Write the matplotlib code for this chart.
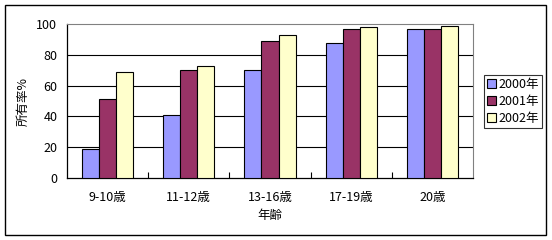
import matplotlib
matplotlib.use('Agg')
import matplotlib.pyplot as plt
from matplotlib.patches import Rectangle
import numpy as np

plt.rcParams['font.family'] = ['Noto Sans CJK JP', 'DejaVu Sans']
plt.rcParams['font.size'] = 9

categories = ['9-10歳', '11-12歳', '13-16歳', '17-19歳', '20歳']
series = ['2000年', '2001年', '2002年']
y2000 = [19, 41, 70, 87.5, 96.5]
y2001 = [51.5, 70, 89, 96.5, 96.5]
y2002 = [69, 73, 93, 98, 98.5]
colors = ['#9999FF', '#993366', '#FFFFCC']

fig = plt.figure(figsize=(5.52, 2.4), dpi=100)
ax = fig.add_axes([67 / 552, 1 - 178 / 240, 406 / 552, 154 / 240])

# outer chart border
fig.patches.append(Rectangle((5 / 552, 5 / 240), 541 / 552, 230 / 240,
                             transform=fig.transFigure, fill=False,
                             edgecolor='black', linewidth=1))

x = np.arange(len(categories))
w = 0.21
for i, (vals, c, lab) in enumerate(zip([y2000, y2001, y2002], colors, series)):
    ax.bar(x + (i - 1) * w, vals, w, color=c, edgecolor='black',
           linewidth=0.8, label=lab, zorder=3)

ax.set_xlim(-0.5, len(categories) - 0.5)
ax.set_ylim(0, 100)
ax.set_yticks(range(0, 101, 20))
for v in range(20, 100, 20):
    ax.axhline(v, color='black', linewidth=0.8, zorder=1)

ax.set_xticks(x)
ax.set_xticklabels(categories)
ax.set_xticks(np.arange(0.5, len(categories) - 0.5, 1), minor=True)
ax.tick_params(axis='x', which='major', length=0, pad=9)
ax.tick_params(axis='x', which='minor', direction='in', length=4, width=0.8)
ax.tick_params(axis='y', length=0, pad=7)

for s in ['top', 'right']:
    ax.spines[s].set_color('#808080')
ax.spines['left'].set_linewidth(0.9)
ax.spines['bottom'].set_linewidth(0.9)

ax.set_xlabel('年齢', labelpad=4)
ax.set_ylabel('所有率%', labelpad=5)

leg = ax.legend(loc='upper left', bbox_to_anchor=(484 / 552, 1 - 75 / 240),
                bbox_transform=fig.transFigure, frameon=True, fancybox=False,
                edgecolor='black', handlelength=0.7, handleheight=0.7,
                handletextpad=0.2, borderpad=0.25, labelspacing=0.3,
                borderaxespad=0)
leg.get_frame().set_linewidth(0.8)

fig.savefig('out.png', dpi=100)
